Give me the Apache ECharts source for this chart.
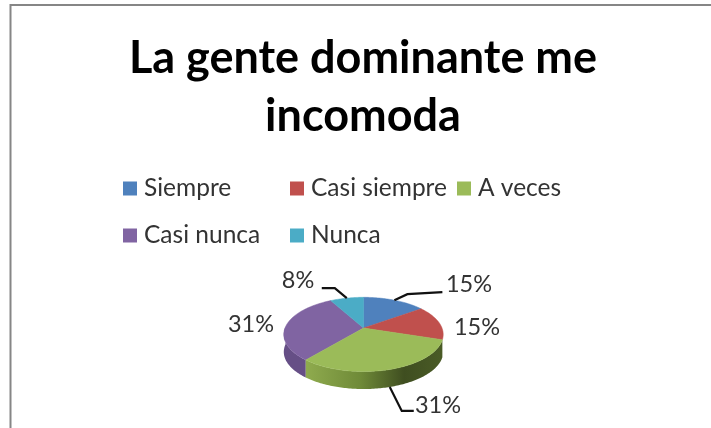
<!DOCTYPE html>
<html>
<head>
<meta charset="utf-8">
<style>
    html, body { margin: 0; padding: 0; background: #fff; }
    #chart { width: 711px; height: 428px; }
</style>
<script src="https://cdn.jsdelivr.net/npm/echarts@6/dist/echarts.min.js"></script>
</head>
<body>
<div id="chart"></div>
<script>
// Data
const categories = ['Siempre', 'Casi siempre', 'A veces', 'Casi nunca', 'Nunca'];
const percentages = [15, 15, 31, 31, 8];
const chartTitle = 'La gente dominante me\nincomoda';

const colors = ['#4f81bd', '#c0504d', '#9bbb59', '#8064a2', '#4bacc6'];
const FONT = 'Lato, "Open Sans", sans-serif';

// Pie projection: flattened circle with a little perspective
const PIE = { cx: 363.5, cy: 328, rx: 78.5, ry: 36, k: 0.173, depth: 17.5 };
const VISIBLE_FROM = 95;   // degrees clockwise from top where the side wall starts
const VISIBLE_TO = 272;

// Label layout per slice. lead = elbow and end of leader relative to the rim point
const LABEL_LAYOUT = [
    { x: 469, y: 284, lead: [[13, -6], [48, -8]] },
    { x: 477, y: 327 },
    { x: 438, y: 405, lead: [[12, 24], [24, 24]], onWall: true },
    { x: 251, y: 324 },
    { x: 298, y: 280, lead: [[-12, -10], [-25, -10]] }
];

// Legend cell positions
const LEGEND_CELLS = [
    { left: 123, top: 176 },
    { left: 290, top: 176 },
    { left: 457, top: 176 },
    { left: 123, top: 223 },
    { left: 290, top: 223 }
];

const WALL_FILLS = {
    2: {
        type: 'linear', x: 0, y: 0, x2: 1, y2: 0,
        colorStops: [
            { offset: 0, color: '#8fab4e' },
            { offset: 0.4, color: '#6f8a38' },
            { offset: 0.72, color: '#3f4e20' },
            { offset: 1, color: '#4a5b26' }
        ]
    },
    3: '#664f86'
};

/**
 * Project an angle on the pie rim to pixels
 * @param {number} deg - Degrees clockwise from the top
 * @returns {number[]} Pixel position
 */
function rimPoint(deg) {
    const rad = deg * Math.PI / 180;
    const u = Math.sin(rad);
    const v = -Math.cos(rad);
    const s = 1 / (1 - PIE.k * v);
    return [PIE.cx + PIE.rx * u * s, PIE.cy + PIE.ry * v * s];
}

/**
 * Sample rim points between two angles
 */
function arcPoints(from, to) {
    const pts = [];
    const steps = Math.max(2, Math.ceil(to - from));
    for (let i = 0; i <= steps; i++) {
        pts.push(rimPoint(from + (to - from) * i / steps));
    }
    return pts;
}

/**
 * Draw one slice with its side wall, leader and label
 */
function renderSlice(index, params, api) {
    const value = api.value(0);
    const start = api.value(1) * 3.6;
    const end = start + value * 3.6;
    const children = [];

    // Side wall, only the part facing the viewer
    const wallFrom = Math.max(start, VISIBLE_FROM);
    const wallTo = Math.min(end, VISIBLE_TO);
    if (WALL_FILLS[index] && wallTo > wallFrom) {
        const upper = arcPoints(wallFrom, wallTo);
        const lower = upper.map(p => [p[0], p[1] + PIE.depth]).reverse();
        children.push({
            type: 'polygon',
            shape: { points: upper.concat(lower) },
            style: { fill: WALL_FILLS[index] }
        });
    }

    // Top face
    children.push({
        type: 'polygon',
        shape: { points: [[PIE.cx, PIE.cy]].concat(arcPoints(start, end)) },
        style: { fill: colors[index], stroke: colors[index], lineWidth: 0.5 }
    });

    // Leader line, anchored at the middle of the slice
    const layout = LABEL_LAYOUT[index];
    if (layout.lead) {
        const rim = rimPoint((start + end) / 2);
        const anchor = [rim[0], rim[1] + (layout.onWall ? PIE.depth : 0)];
        const points = [anchor].concat(layout.lead.map(d => [anchor[0] + d[0], anchor[1] + d[1]]));
        children.push({
            type: 'polyline',
            shape: { points: points },
            style: { fill: 'none', stroke: '#111', lineWidth: 2.2 }
        });
    }

    children.push({
        type: 'text',
        x: layout.x,
        y: layout.y,
        style: {
            text: value + '%',
            align: 'center',
            verticalAlign: 'middle',
            font: '23.5px ' + FONT,
            fill: '#333'
        }
    });

    return { type: 'group', children: children };
}

/**
 * Initialize ECharts instance
 */
function initChart() {
    const chart = echarts.init(document.getElementById('chart'));

    let running = 0;
    const series = categories.map((name, i) => {
        const item = {
            name: name,
            type: 'custom',
            coordinateSystem: 'none',
            silent: true,
            animation: false,
            itemStyle: { color: colors[i] },
            // back slices first so the walls stack properly
            z: i === 2 ? 3 : 2,
            data: [[percentages[i], running]],
            renderItem: (params, api) => renderSlice(i, params, api)
        };
        running += percentages[i];
        return item;
    });

    const option = {
        backgroundColor: '#fff',
        animation: false,
        title: {
            text: chartTitle,
            left: 358,
            top: 24,
            textAlign: 'center',
            textStyle: {
                fontFamily: FONT,
                fontWeight: 'bold',
                fontSize: 45,
                lineHeight: 58,
                color: '#000'
            }
        },
        legend: categories.map((name, i) => ({
            data: [name],
            left: LEGEND_CELLS[i].left,
            top: LEGEND_CELLS[i].top,
            icon: 'rect',
            itemWidth: 14,
            itemHeight: 14,
            itemGap: 0,
            padding: 0,
            selectedMode: false,
            textStyle: { fontFamily: FONT, fontSize: 24.5, color: '#333', padding: [0, 0, 0, 2] }
        })),
        graphic: [
            // outer chart frame, cropped by the picture on the right and bottom
            {
                type: 'polyline',
                silent: true,
                shape: { points: [[10.5, 428], [10.5, 5], [711, 5]] },
                style: { fill: 'none', stroke: '#868686', lineWidth: 2 }
            }
        ],
        series: series
    };

    chart.setOption(option);
}

initChart();
</script>
</body>
</html>
